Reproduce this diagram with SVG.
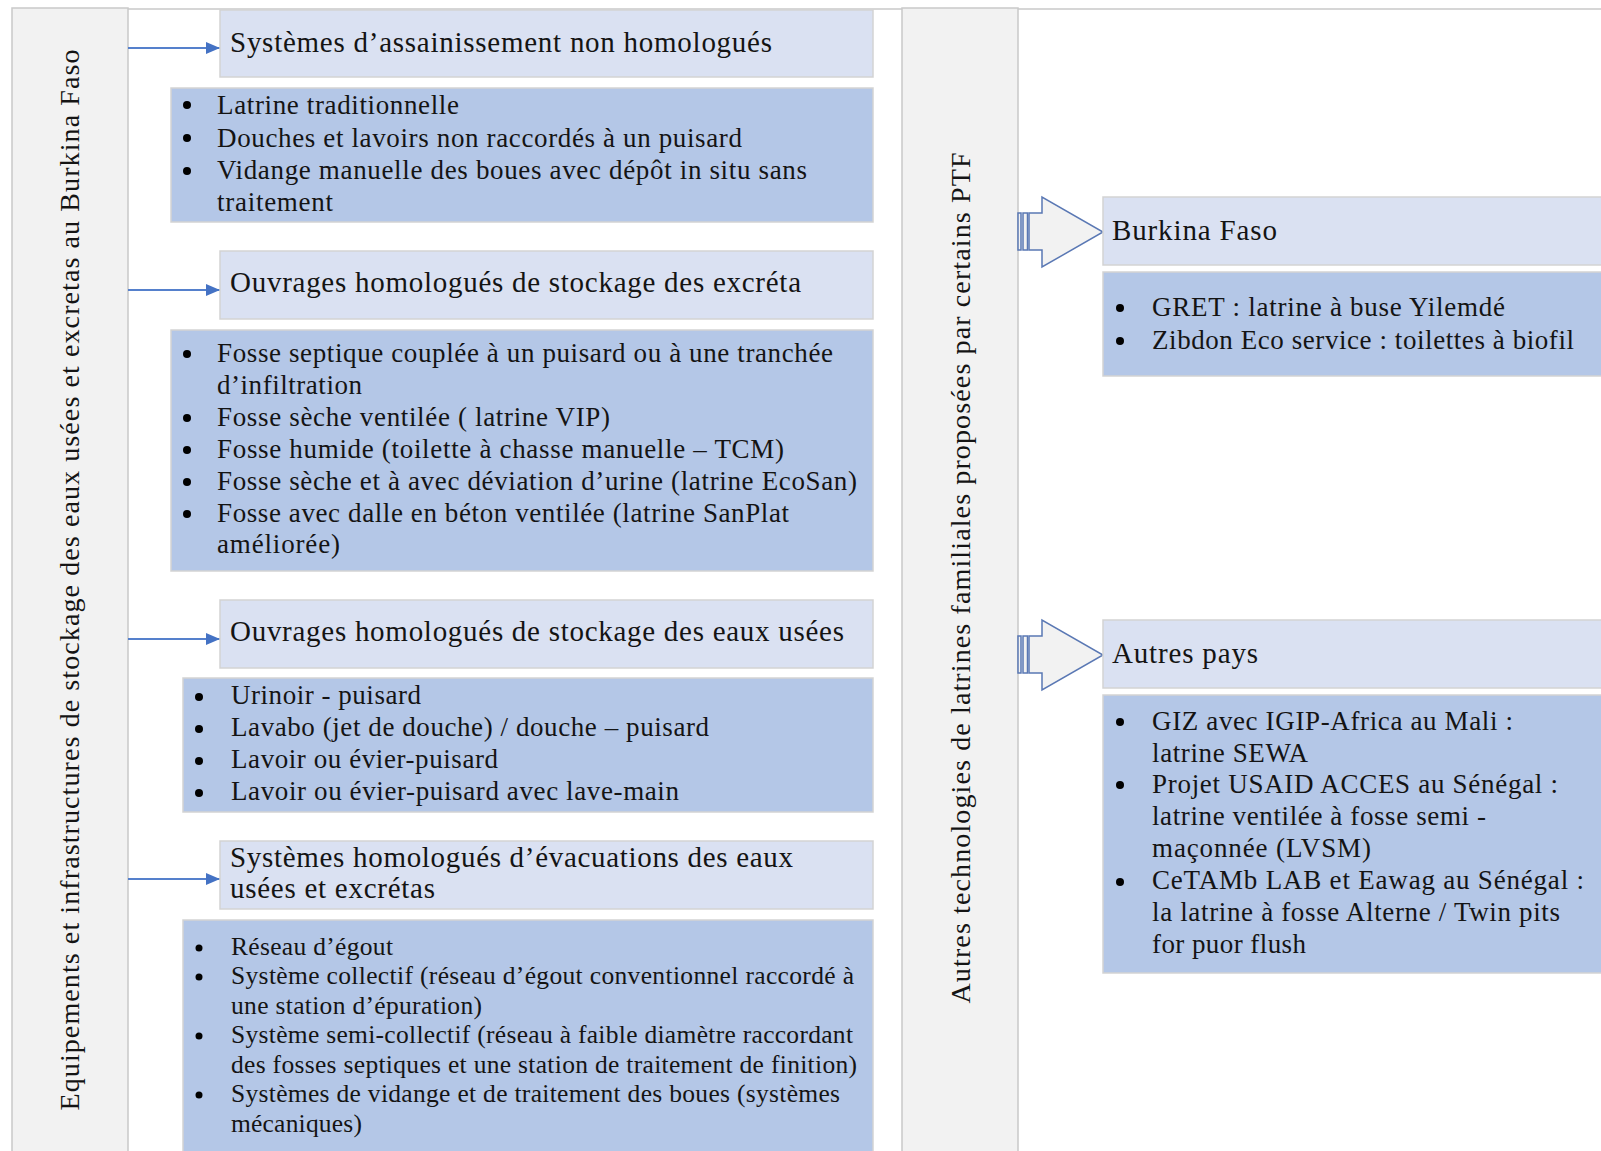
<svg xmlns="http://www.w3.org/2000/svg" width="1601" height="1151" viewBox="0 0 1601 1151">
<defs>
<style>
.col{fill:#f2f2f2;stroke:#c9c9c9;stroke-width:1.5}
.hd{fill:#dae1f2;stroke:#d3d3d3;stroke-width:1.5}
.bl{fill:#b4c7e7;stroke:#d3d3d3;stroke-width:1.5}
text{font-family:"Liberation Serif","Times New Roman",serif;fill:#141414}
.h{font-size:29px}
.b{font-size:27px}
.s{font-size:25.5px}
.r{font-size:28px}
.dot{fill:#000}
.conn{stroke:#5580cc;stroke-width:2;fill:none}
.barrow{fill:#f2f2f2;stroke:#5a78b4;stroke-width:1.5}
</style>
<marker id="ah" viewBox="0 0 14 12" refX="14" refY="6" markerWidth="14" markerHeight="12" orient="auto" markerUnits="userSpaceOnUse">
<path d="M0,0 L14,6 L0,12 z" fill="#4472c4"/>
</marker>
</defs>
<rect width="1601" height="1151" fill="#ffffff"/>
<line x1="12" y1="9" x2="1601" y2="9" stroke="#c8c8c8" stroke-width="1.5"/>

<g id="col-left">
<rect class="col" x="12" y="8" width="116" height="1150"/>
<text class="r" transform="translate(79,580) rotate(-90)" text-anchor="middle" textLength="1061" lengthAdjust="spacing">Equipements et infrastructures de stockage des eaux usées et excretas au Burkina Faso</text>
</g>

<g id="col-mid">
<rect class="col" x="902" y="8" width="116" height="1150"/>
<text class="r" transform="translate(970,578) rotate(-90)" text-anchor="middle" textLength="851" lengthAdjust="spacing">Autres technologies de latrines familiales proposées par certains PTF</text>
</g>

<g id="connectors">
<path class="conn" d="M128,48 H220" marker-end="url(#ah)"/>
<path class="conn" d="M128,290 H220" marker-end="url(#ah)"/>
<path class="conn" d="M128,639 H220" marker-end="url(#ah)"/>
<path class="conn" d="M128,879 H220" marker-end="url(#ah)"/>
<g id="barrow1">
<rect class="barrow" x="1018" y="213" width="3" height="37"/>
<rect class="barrow" x="1023" y="213" width="4.5" height="37"/>
<path class="barrow" d="M1029,213 H1042 V197 L1103,232 L1042,267 V250 H1029 Z"/>
</g>
<g id="barrow2">
<rect class="barrow" x="1018" y="636" width="3" height="37"/>
<rect class="barrow" x="1023" y="636" width="4.5" height="37"/>
<path class="barrow" d="M1029,636 H1042 V620 L1103,655 L1042,690 V673 H1029 Z"/>
</g>
</g>

<g id="h1">
<rect class="hd" x="220" y="10" width="653" height="67"/>
<text class="h" x="230" y="52" textLength="542" lengthAdjust="spacing">Systèmes d’assainissement non homologués</text>
</g>
<g id="b1">
<rect class="bl" x="171" y="88" width="702" height="134"/>
<circle class="dot" cx="187" cy="105" r="4"/>
<circle class="dot" cx="187" cy="138" r="4"/>
<circle class="dot" cx="187" cy="171" r="4"/>
<text class="b" x="217" y="114" textLength="242" lengthAdjust="spacing">Latrine traditionnelle</text>
<text class="b" x="217" y="147" textLength="525" lengthAdjust="spacing">Douches et lavoirs non raccordés à un puisard</text>
<text class="b" x="217" y="179" textLength="590" lengthAdjust="spacing">Vidange manuelle des boues avec dépôt in situ sans</text>
<text class="b" x="217" y="211" textLength="116" lengthAdjust="spacing">traitement</text>
</g>

<g id="h2">
<rect class="hd" x="220" y="251" width="653" height="68"/>
<text class="h" x="230" y="292" textLength="571" lengthAdjust="spacing">Ouvrages homologués de stockage des excréta</text>
</g>
<g id="b2">
<rect class="bl" x="171" y="330" width="702" height="241"/>
<circle class="dot" cx="187" cy="354" r="4"/>
<circle class="dot" cx="187" cy="418" r="4"/>
<circle class="dot" cx="187" cy="450" r="4"/>
<circle class="dot" cx="187" cy="482" r="4"/>
<circle class="dot" cx="187" cy="514" r="4"/>
<text class="b" x="217" y="362" textLength="616" lengthAdjust="spacing">Fosse septique couplée à un puisard ou à une tranchée</text>
<text class="b" x="217" y="394" textLength="145" lengthAdjust="spacing">d’infiltration</text>
<text class="b" x="217" y="426" textLength="393" lengthAdjust="spacing">Fosse sèche ventilée ( latrine VIP)</text>
<text class="b" x="217" y="458" textLength="567" lengthAdjust="spacing">Fosse humide (toilette à chasse manuelle – TCM)</text>
<text class="b" x="217" y="490" textLength="640" lengthAdjust="spacing">Fosse sèche et à avec déviation d’urine (latrine EcoSan)</text>
<text class="b" x="217" y="522" textLength="572" lengthAdjust="spacing">Fosse avec dalle en béton ventilée (latrine SanPlat</text>
<text class="b" x="217" y="553" textLength="123" lengthAdjust="spacing">améliorée)</text>
</g>

<g id="h3">
<rect class="hd" x="220" y="600" width="653" height="68"/>
<text class="h" x="230" y="641" textLength="614" lengthAdjust="spacing">Ouvrages homologués de stockage des eaux usées</text>
</g>
<g id="b3">
<rect class="bl" x="183" y="678" width="690" height="134"/>
<circle class="dot" cx="199" cy="697" r="4"/>
<circle class="dot" cx="199" cy="729" r="4"/>
<circle class="dot" cx="199" cy="761" r="4"/>
<circle class="dot" cx="199" cy="793" r="4"/>
<text class="b" x="231" y="704" textLength="190" lengthAdjust="spacing">Urinoir - puisard</text>
<text class="b" x="231" y="736" textLength="478" lengthAdjust="spacing">Lavabo (jet de douche) / douche – puisard</text>
<text class="b" x="231" y="768" textLength="267" lengthAdjust="spacing">Lavoir ou évier-puisard</text>
<text class="b" x="231" y="800" textLength="448" lengthAdjust="spacing">Lavoir ou évier-puisard avec lave-main</text>
</g>

<g id="h4">
<rect class="hd" x="220" y="841" width="653" height="68"/>
<text class="h" x="230" y="867" textLength="563" lengthAdjust="spacing">Systèmes homologués d’évacuations des eaux</text>
<text class="h" x="230" y="898" textLength="205" lengthAdjust="spacing">usées et excrétas</text>
</g>
<g id="b4">
<rect class="bl" x="183" y="920" width="690" height="240"/>
<circle class="dot" cx="199" cy="948" r="3.5"/>
<circle class="dot" cx="199" cy="977" r="3.5"/>
<circle class="dot" cx="199" cy="1036" r="3.5"/>
<circle class="dot" cx="199" cy="1095" r="3.5"/>
<text class="s" x="231" y="955" textLength="162" lengthAdjust="spacing">Réseau d’égout</text>
<text class="s" x="231" y="984" textLength="623" lengthAdjust="spacing">Système collectif (réseau d’égout conventionnel raccordé à</text>
<text class="s" x="231" y="1014" textLength="251" lengthAdjust="spacing">une station d’épuration)</text>
<text class="s" x="231" y="1043" textLength="622" lengthAdjust="spacing">Système semi-collectif (réseau à faible diamètre raccordant</text>
<text class="s" x="231" y="1073" textLength="626" lengthAdjust="spacing">des fosses septiques et une station de traitement de finition)</text>
<text class="s" x="231" y="1102" textLength="609" lengthAdjust="spacing">Systèmes de vidange et de traitement des boues (systèmes</text>
<text class="s" x="231" y="1132" textLength="131" lengthAdjust="spacing">mécaniques)</text>
</g>

<g id="h5">
<rect class="hd" x="1103" y="197" width="510" height="68"/>
<text class="h" x="1112" y="240" textLength="165" lengthAdjust="spacing">Burkina Faso</text>
</g>
<g id="b5">
<rect class="bl" x="1103" y="272" width="510" height="104"/>
<circle class="dot" cx="1120" cy="308" r="4"/>
<circle class="dot" cx="1120" cy="341" r="4"/>
<text class="b" x="1152" y="316" textLength="353" lengthAdjust="spacing">GRET : latrine à buse Yilemdé</text>
<text class="b" x="1152" y="349" textLength="422" lengthAdjust="spacing">Zibdon Eco service : toilettes à biofil</text>
</g>

<g id="h6">
<rect class="hd" x="1103" y="620" width="510" height="68"/>
<text class="h" x="1112" y="663" textLength="146" lengthAdjust="spacing">Autres pays</text>
</g>
<g id="b6">
<rect class="bl" x="1103" y="695" width="510" height="278"/>
<circle class="dot" cx="1120" cy="722" r="4"/>
<circle class="dot" cx="1120" cy="785" r="4"/>
<circle class="dot" cx="1120" cy="882" r="4"/>
<text class="b" x="1152" y="730" textLength="361" lengthAdjust="spacing">GIZ avec IGIP-Africa au Mali :</text>
<text class="b" x="1152" y="762" textLength="156" lengthAdjust="spacing">latrine SEWA</text>
<text class="b" x="1152" y="793" textLength="406" lengthAdjust="spacing">Projet USAID ACCES au Sénégal :</text>
<text class="b" x="1152" y="825" textLength="334" lengthAdjust="spacing">latrine ventilée à fosse semi -</text>
<text class="b" x="1152" y="857" textLength="219" lengthAdjust="spacing">maçonnée (LVSM)</text>
<text class="b" x="1152" y="889" textLength="432" lengthAdjust="spacing">CeTAMb LAB et Eawag au Sénégal :</text>
<text class="b" x="1152" y="921" textLength="408" lengthAdjust="spacing">la latrine à fosse Alterne / Twin pits</text>
<text class="b" x="1152" y="953" textLength="154" lengthAdjust="spacing">for puor flush</text>
</g>
</svg>
